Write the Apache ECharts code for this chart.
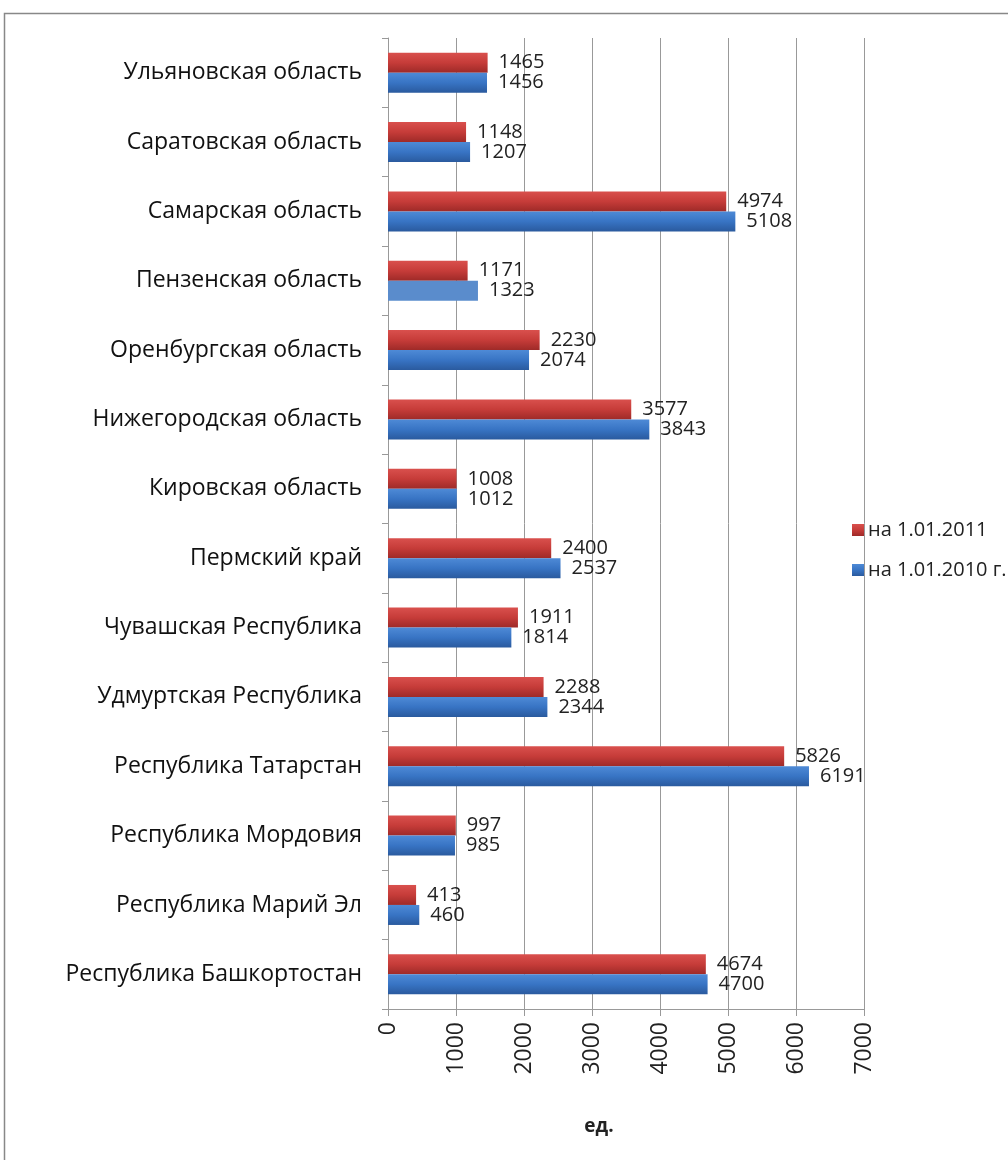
<!DOCTYPE html>
<html>
<head>
<meta charset="utf-8">
<script src="https://cdn.jsdelivr.net/npm/echarts@6/dist/echarts.min.js"></script>
<style>
  html, body { margin: 0; padding: 0; background: #fff; }
  #chart { width: 1008px; height: 1160px; }
</style>
</head>
<body>
<div id="chart"></div>
<script>
// регионы снизу вверх
var regions = [
  'Республика Башкортостан',
  'Республика Марий Эл',
  'Республика Мордовия',
  'Республика Татарстан',
  'Удмуртская Республика',
  'Чувашская Республика',
  'Пермский край',
  'Кировская область',
  'Нижегородская область',
  'Оренбургская область',
  'Пензенская область',
  'Самарская область',
  'Саратовская область',
  'Ульяновская область'
];
var values2011 = [4674, 413, 997, 5826, 2288, 1911, 2400, 1008, 3577, 2230, 1171, 4974, 1148, 1465];
var values2010 = [4700, 460, 985, 6191, 2344, 1814, 2537, 1012, 3843, 2074, 1323, 5108, 1207, 1456];
var xTicks = [0, 1000, 2000, 3000, 4000, 5000, 6000, 7000];

var redGrad = new echarts.graphic.LinearGradient(0, 0, 0, 1, [
  {offset: 0, color: '#d9504d'},
  {offset: 0.5, color: '#c63c39'},
  {offset: 1, color: '#9e2a28'}
]);
var blueGrad = new echarts.graphic.LinearGradient(0, 0, 0, 1, [
  {offset: 0, color: '#4e8ad6'},
  {offset: 0.5, color: '#3874c4'},
  {offset: 1, color: '#2a5a9e'}
]);

var labelStyle = {
  show: true,
  position: 'right',
  distance: 11,
  fontSize: 20,
  color: '#222',
  fontFamily: 'Open Sans'
};

var chart = echarts.init(document.getElementById('chart'));
chart.setOption({
  animation: false,
  backgroundColor: '#fff',
  graphic: [{
    type: 'rect',
    shape: {x: 4.5, y: 13.5, width: 1010, height: 1160},
    style: {fill: 'none', stroke: '#888', lineWidth: 1.5}
  }],
  grid: {left: 388, top: 38, right: 144, bottom: 151},
  legend: {
    orient: 'vertical',
    left: 847,
    top: 515,
    itemWidth: 12,
    itemHeight: 12,
    itemGap: 20,
    icon: 'rect',
    data: ['на 1.01.2011', 'на 1.01.2010 г.'],
    textStyle: {fontSize: 20, color: '#222', fontFamily: 'Open Sans', padding: [0, 0, 0, -1]}
  },
  xAxis: {
    type: 'value',
    min: 0,
    max: 7000,
    interval: 1000,
    name: 'ед.',
    nameLocation: 'middle',
    nameGap: 108,
    nameTextStyle: {fontSize: 19, fontWeight: 'bold', color: '#222', fontFamily: 'Open Sans', padding: [0, 54, 0, 0]},
    axisLine: {show: true, lineStyle: {color: '#999'}},
    axisTick: {show: true, length: 7, lineStyle: {color: '#999'}},
    axisLabel: {
      rotate: 90,
      fontSize: 23,
      color: '#222',
      margin: 13,
      fontFamily: 'Open Sans',
      formatter: function (v) { return xTicks.indexOf(v) >= 0 ? String(v) : ''; }
    },
    splitLine: {show: true, lineStyle: {color: '#999'}}
  },
  yAxis: {
    type: 'category',
    data: regions,
    axisLine: {show: true, lineStyle: {color: '#999'}},
    axisTick: {show: true, length: 6, lineStyle: {color: '#999'}},
    axisLabel: {fontSize: 23, color: '#111', margin: 26, fontFamily: 'Open Sans'}
  },
  series: [
    {
      name: 'на 1.01.2011',
      type: 'bar',
      data: values2011,
      barWidth: 20,
      barGap: '0%',
      itemStyle: {color: redGrad},
      label: labelStyle
    },
    {
      name: 'на 1.01.2010 г.',
      type: 'bar',
      data: values2010.map(function (v, i) {
        if (regions[i] === 'Пензенская область') {
          return {value: v, itemStyle: {color: '#5a8ccc'}};
        }
        return v;
      }),
      barWidth: 20,
      barGap: '0%',
      itemStyle: {color: blueGrad},
      label: labelStyle
    }
  ]
});
</script>
</body>
</html>
